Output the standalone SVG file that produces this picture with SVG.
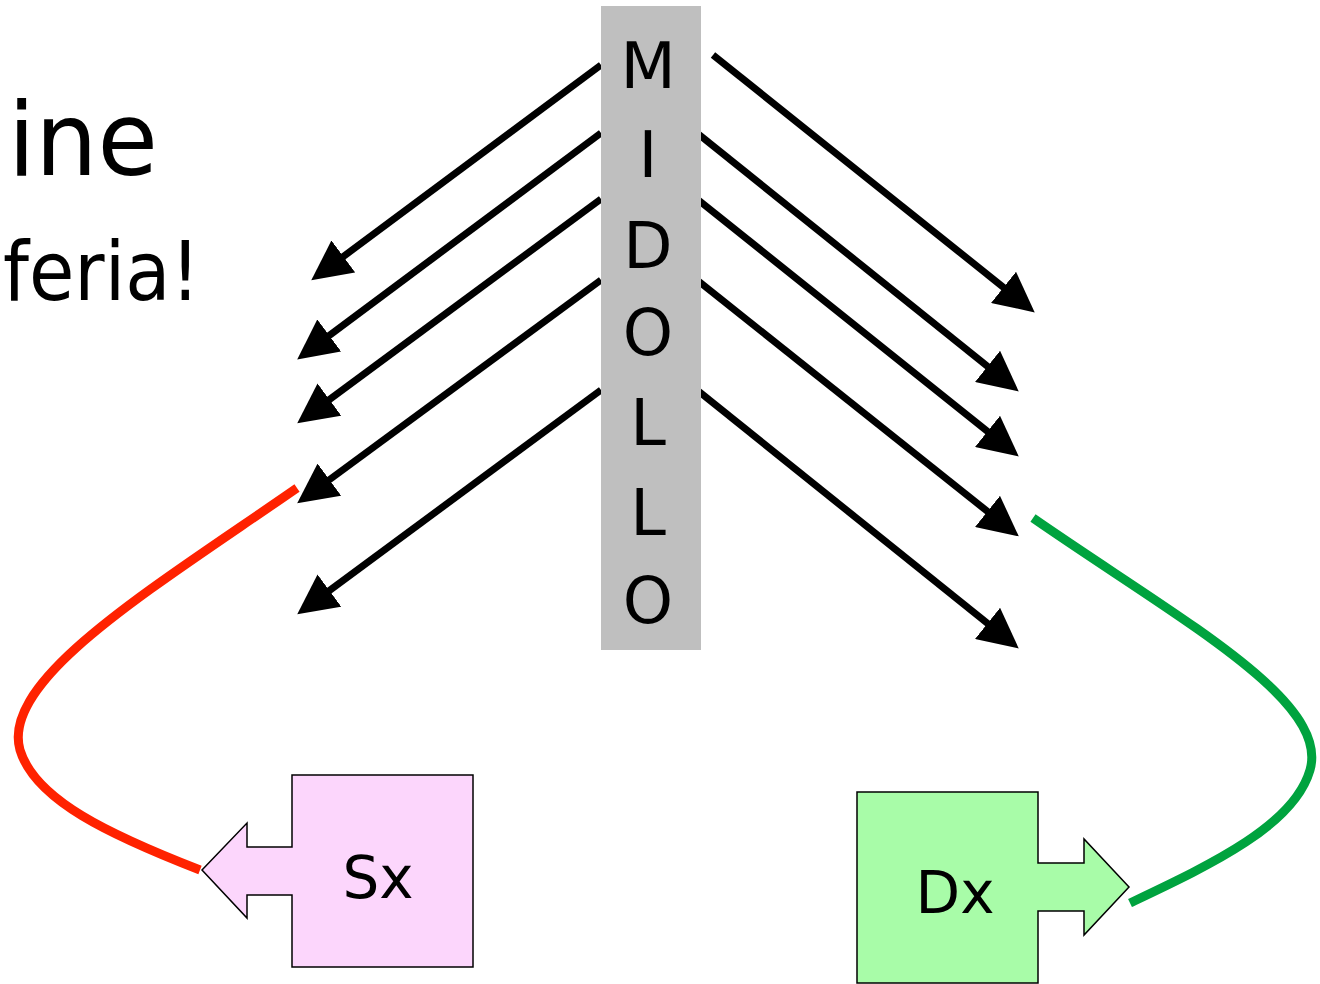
<svg xmlns="http://www.w3.org/2000/svg" width="1320" height="984" viewBox="0 0 1320 984">
<style>
.t{font-family:"DejaVu Sans","Noto Sans",sans-serif;fill:#000}
.ar{stroke:#000;stroke-width:7;fill:none;marker-end:url(#ah)}
.node{stroke:#000;stroke-width:1.5}
.curve{fill:none;stroke-width:9}
</style>
<defs>
<marker id="ah" markerUnits="userSpaceOnUse" markerWidth="40" markerHeight="40" viewBox="0 0 36 36" refX="16" refY="18" orient="auto">
<path d="M0,0 L36,18 L0,36 z" fill="#000"/>
</marker>
</defs>
<rect width="1320" height="984" fill="#fff"/>
<g id="title">
<text class="t" x="8" y="175" font-size="102" textLength="150" lengthAdjust="spacingAndGlyphs">ine</text>
<text class="t" x="3" y="300" font-size="82" textLength="197" lengthAdjust="spacingAndGlyphs">feria!</text>
</g>
<g id="connectors">
<line class="ar" x1="601" y1="65" x2="329.1" y2="267.1"/>
<line class="ar" x1="601" y1="133" x2="315.0" y2="346.1"/>
<line class="ar" x1="601" y1="199" x2="315.1" y2="410.1"/>
<line class="ar" x1="601" y1="280" x2="315.1" y2="490.2"/>
<line class="ar" x1="601" y1="390" x2="315.1" y2="601.1"/>
<line class="ar" x1="713" y1="55" x2="1017.4" y2="298.5"/>
<line class="ar" x1="697" y1="133" x2="1001.4" y2="377.5"/>
<line class="ar" x1="697" y1="199" x2="1001.4" y2="442.5"/>
<line class="ar" x1="697" y1="280" x2="1001.4" y2="522.5"/>
<line class="ar" x1="697" y1="390" x2="1001.4" y2="634.5"/>
<path class="curve" stroke="#FF2200" d="M297,488 C150,590 0,680 20,750 C35,800 110,835 200,870"/>
<path class="curve" stroke="#00A33F" d="M1033,518 C1180,620 1330,700 1310,770 C1294,826 1210,865 1130,903"/>
</g>
<g id="midollo">
<rect x="601" y="6" width="100" height="644" fill="#BFBFBF"/>
<g class="t" font-size="64" text-anchor="middle">
<text x="648" y="88">M</text>
<text x="648" y="177">I</text>
<text x="648" y="268">D</text>
<text x="648" y="355">O</text>
<text x="648" y="445">L</text>
<text x="648" y="535">L</text>
<text x="648" y="623">O</text>
</g>
</g>
<g id="sx">
<path class="node" fill="#FCD6FC" d="M292,775 H473 V967 H292 V895 H247 V918 L202,870 L247,823 V847 H292 Z"/>
<text class="t" x="378" y="898" font-size="58" text-anchor="middle">Sx</text>
</g>
<g id="dx">
<path class="node" fill="#A8FCA8" d="M857,792 H1038 V863 H1084 V839 L1129,887 L1084,935 V911 H1038 V983 H857 Z"/>
<text class="t" x="955" y="913" font-size="58" text-anchor="middle">Dx</text>
</g>
</svg>
